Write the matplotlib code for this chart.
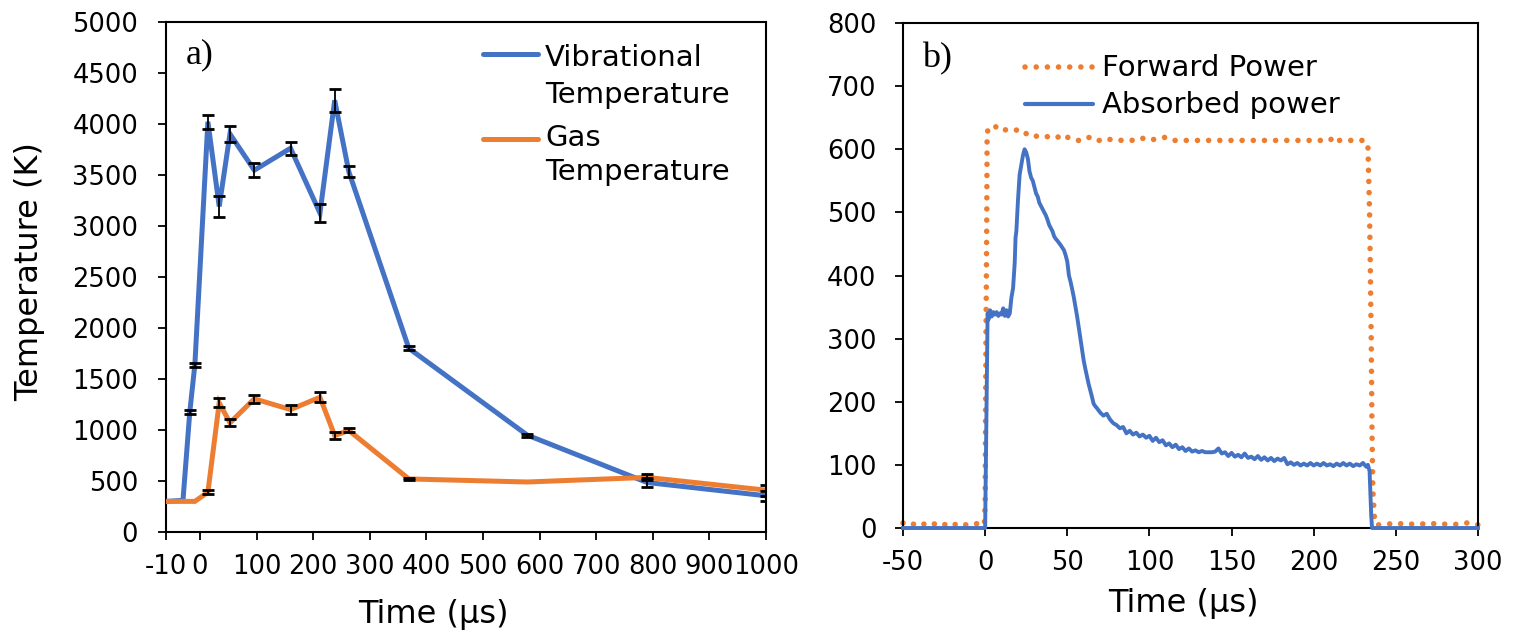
import numpy as np
import matplotlib
matplotlib.use("Agg")
import matplotlib.pyplot as plt

# --- datos panel a) ---
t_a = [-10, -5, -3, -1.5, 14, 34, 53, 96, 160, 212, 238, 263, 369, 578, 790, 1000]
vib = [300, 310, 1175, 1640, 4020, 3190, 3900, 3545, 3760, 3125, 4230, 3530, 1800, 950, 485, 355]
vib_err = [0, 0, 20, 20, 70, 100, 80, 70, 65, 85, 110, 55, 20, 15, 40, 50]
gas = [300, 300, 300, 300, 390, 1265, 1070, 1305, 1200, 1320, 945, 995, 520, 490, 535, 410]
gas_err = [0, 0, 0, 0, 20, 45, 35, 40, 40, 50, 30, 20, 10, 0, 30, 55]
xticks_a = [-10, 0, 100, 200, 300, 400, 500, 600, 700, 800, 900, 1000]

# --- datos panel b) ---
t_fwd = [-50, -48, -45, -42, -40, -37, -35, -32, -30, -27, -25, -22, -20, -17, -15, -12,
         -10, -7, -5, -2, -0.5, 0, 0.5, 1, 1.2, 3, 6, 7, 9, 12, 15, 18, 21, 23, 26, 29,
         32, 35, 38, 41, 44, 47, 50, 53, 56, 59, 62, 64, 67, 70, 74, 78, 82, 86, 90, 95,
         100, 105, 110, 115, 120, 125, 130, 140, 150, 160, 170, 180, 190, 200, 210, 212,
         215, 220, 225, 230, 232, 233, 234, 235, 235.5, 236, 237, 238, 240, 245, 250, 255,
         260, 265, 270, 275, 280, 285, 290, 295, 298, 300]
p_fwd = [8, 5, 7, 5, 8, 6, 5, 8, 5, 7, 5, 8, 5, 6, 8, 5,
         6, 5, 7, 5, 5, 40, 300, 500, 628, 633, 638, 633, 630, 631, 629, 630, 631, 630, 622, 620,
         621, 619, 620, 618, 620, 615, 619, 617, 614, 614, 618, 619, 614, 614, 617, 614, 614, 615, 614, 618,
         614, 617, 619, 614, 614, 614, 614, 614, 614, 614, 614, 614, 614, 614, 614, 620,
         614, 614, 614, 614, 612, 605, 500, 300, 150, 60, 15, 5, 5, 7, 5, 8,
         6, 7, 5, 8, 6, 5, 8, 8, 6, 5]

t_abs = [-50, -1, 0, 1.5, 2, 3, 4, 5, 6, 7, 8, 9, 10, 11, 12, 13, 14, 15, 16, 17, 18, 18.5,
         19, 20, 21, 22, 23, 24, 25, 26, 27, 28, 29, 30, 31, 32, 33, 34, 35, 36, 37, 38, 39,
         40, 41, 42, 43, 44, 46, 48, 49, 50, 51, 52, 53, 54, 55, 56, 57, 58, 59, 60, 61, 62,
         63, 64, 65, 66, 67, 68,
         70, 72, 74, 76, 78, 80, 82, 84, 86, 88, 90, 92, 94, 96, 98, 100, 102, 104, 106, 108,
         110, 112, 114, 116, 118, 120, 122, 124, 126, 128, 130, 132, 134, 136, 138, 140, 142,
         144, 146, 148, 150, 152, 154, 156, 158, 160, 162, 164, 166, 168, 170, 172, 174, 176,
         178, 180, 182, 184, 186, 188, 190, 192, 194, 196, 198, 200, 202, 204, 206, 208, 210,
         212, 214, 216, 218, 220, 222, 224, 226, 228, 230, 232, 233, 234, 235, 235.5, 300]
p_abs = [0, 0, 0, 340, 330, 345, 335, 342, 338, 342, 336, 340, 338, 348, 336, 345, 335, 340, 365, 380, 420, 460,
         470, 520, 560, 575, 590, 600, 595, 585, 565, 555, 550, 540, 530, 525, 515, 510, 505, 500, 495, 488, 480,
         475, 470, 462, 458, 455, 448, 440, 432, 422, 400, 390, 378, 365, 350, 335, 318, 300, 282, 265, 252, 240,
         228, 218, 208, 197, 193, 190,
         183, 178, 181, 172, 166, 163, 158, 160, 150, 154, 148, 151, 145, 148, 143, 146, 138, 143, 136, 139,
         131, 134, 128, 132, 125, 128, 122, 126, 121, 123, 120, 122, 120, 120, 120, 121, 126,
         118, 120, 114, 119, 113, 116, 112, 118, 111, 113, 109, 114, 108, 112, 107, 111, 106,
         110, 107, 111, 101, 104, 100, 103, 99, 102, 99, 103, 99, 102, 99, 103, 99, 101,
         98, 102, 99, 103, 99, 102, 98, 101, 99, 103, 97, 100, 90, 20, 0, 0]

BLUE = '#4472C4'
ORANGE = '#ED7D31'

plt.rcParams['font.family'] = ['DejaVu Sans']
plt.rcParams['axes.unicode_minus'] = False

fig = plt.figure(figsize=(15.18, 6.33), dpi=100)
W, H = 1518, 633
ax1 = fig.add_axes([166 / W, 1 - 532 / H, 600 / W, (532 - 21.7) / H])
ax2 = fig.add_axes([903 / W, 1 - 528 / H, 575 / W, 505 / H])


# eje x partido: -10..0 ocupa lo mismo que 60 us
def fwd(x):
    x = np.asarray(x, float)
    return np.where(x < 0, x * 6.0, x)


def inv(u):
    u = np.asarray(u, float)
    return np.where(u < 0, u / 6.0, u)


ax1.set_xscale('function', functions=(fwd, inv))

# ----- panel a -----
ax1.plot(t_a, vib, color=BLUE, lw=3.6, solid_joinstyle='miter', zorder=3)
ax1.plot(t_a, gas, color=ORANGE, lw=3.6, solid_joinstyle='miter', zorder=3)
for y, e in ((vib, vib_err), (gas, gas_err)):
    m = np.array(e) > 0
    ax1.errorbar(np.array(t_a)[m], np.array(y)[m], yerr=np.array(e)[m], fmt='none',
                 ecolor='black', elinewidth=1.3, capsize=4.5, capthick=2, zorder=4)

ax1.set_xlim(-10, 1000)
ax1.set_ylim(0, 5000)
ax1.set_xticks(xticks_a)
ax1.set_xticklabels([str(v) for v in xticks_a])
ax1.set_yticks(np.arange(0, 5001, 500))
ax1.tick_params(axis='y', direction='out', length=6, width=1.3, pad=14, labelsize=18.5)
ax1.tick_params(axis='x', direction='out', length=6, width=1.3, pad=10, labelsize=18.5)
for s in ax1.spines.values():
    s.set_linewidth(1.5)

ax1.set_ylabel('Temperature (K)', fontsize=23, va='center')
ax1.yaxis.set_label_coords(-0.227, 0.51)
ax1.set_xlabel('Time (µs)', fontsize=23)
ax1.xaxis.label.set_verticalalignment('baseline')
ax1.xaxis.set_label_coords(0.445, -0.178)

ax1.text(0.033, 0.919, 'a)', transform=ax1.transAxes, fontsize=26,
         family='Liberation Serif', va='baseline')

# leyenda manual (etiquetas en dos lineas)
ax1.plot([0.528, 0.620], [0.937, 0.937], transform=ax1.transAxes, color=BLUE,
         lw=3.6, solid_capstyle='round', clip_on=False)
ax1.plot([0.528, 0.620], [0.770, 0.770], transform=ax1.transAxes, color=ORANGE,
         lw=3.6, solid_capstyle='round', clip_on=False)
for txt, yy in (('Vibrational', 0.914), ('Temperature', 0.841),
                ('Gas', 0.756), ('Temperature', 0.690)):
    ax1.text(0.632, yy, txt, transform=ax1.transAxes, fontsize=21, va='baseline')

# ----- panel b -----
ax2.plot(t_fwd, p_fwd, color=ORANGE, lw=4, linestyle=(0, (0.01, 2.0)),
         dash_capstyle='round', zorder=2, clip_on=False)
ax2.plot(t_abs, p_abs, color=BLUE, lw=2.8, zorder=3, clip_on=False)

ax2.set_xlim(-50, 300)
ax2.set_ylim(0, 800)
ax2.set_xticks(np.arange(-50, 301, 50))
ax2.set_yticks(np.arange(0, 801, 100))
ax2.tick_params(axis='y', direction='out', length=6, width=1.3, pad=13, labelsize=18.5)
ax2.tick_params(axis='x', direction='out', length=6, width=1.3, pad=10, labelsize=18.5)
for s in ax2.spines.values():
    s.set_linewidth(1.5)

ax2.set_xlabel('Time (µs)', fontsize=23)
ax2.xaxis.label.set_verticalalignment('baseline')
ax2.xaxis.set_label_coords(0.487, -0.166)

ax2.text(0.033, 0.913, 'b)', transform=ax2.transAxes, fontsize=26,
         family='Liberation Serif', va='baseline')

ax2.plot([0.212, 0.330], [0.913, 0.913], transform=ax2.transAxes, color=ORANGE,
         lw=4, linestyle=(0, (0.01, 2.0)), dash_capstyle='round', clip_on=False)
ax2.plot([0.212, 0.330], [0.840, 0.840], transform=ax2.transAxes, color=BLUE,
         lw=3.0, solid_capstyle='round', clip_on=False)
ax2.text(0.346, 0.895, 'Forward Power', transform=ax2.transAxes, fontsize=21, va='baseline')
ax2.text(0.346, 0.821, 'Absorbed power', transform=ax2.transAxes, fontsize=21, va='baseline')

fig.savefig('out.png', dpi=100)
